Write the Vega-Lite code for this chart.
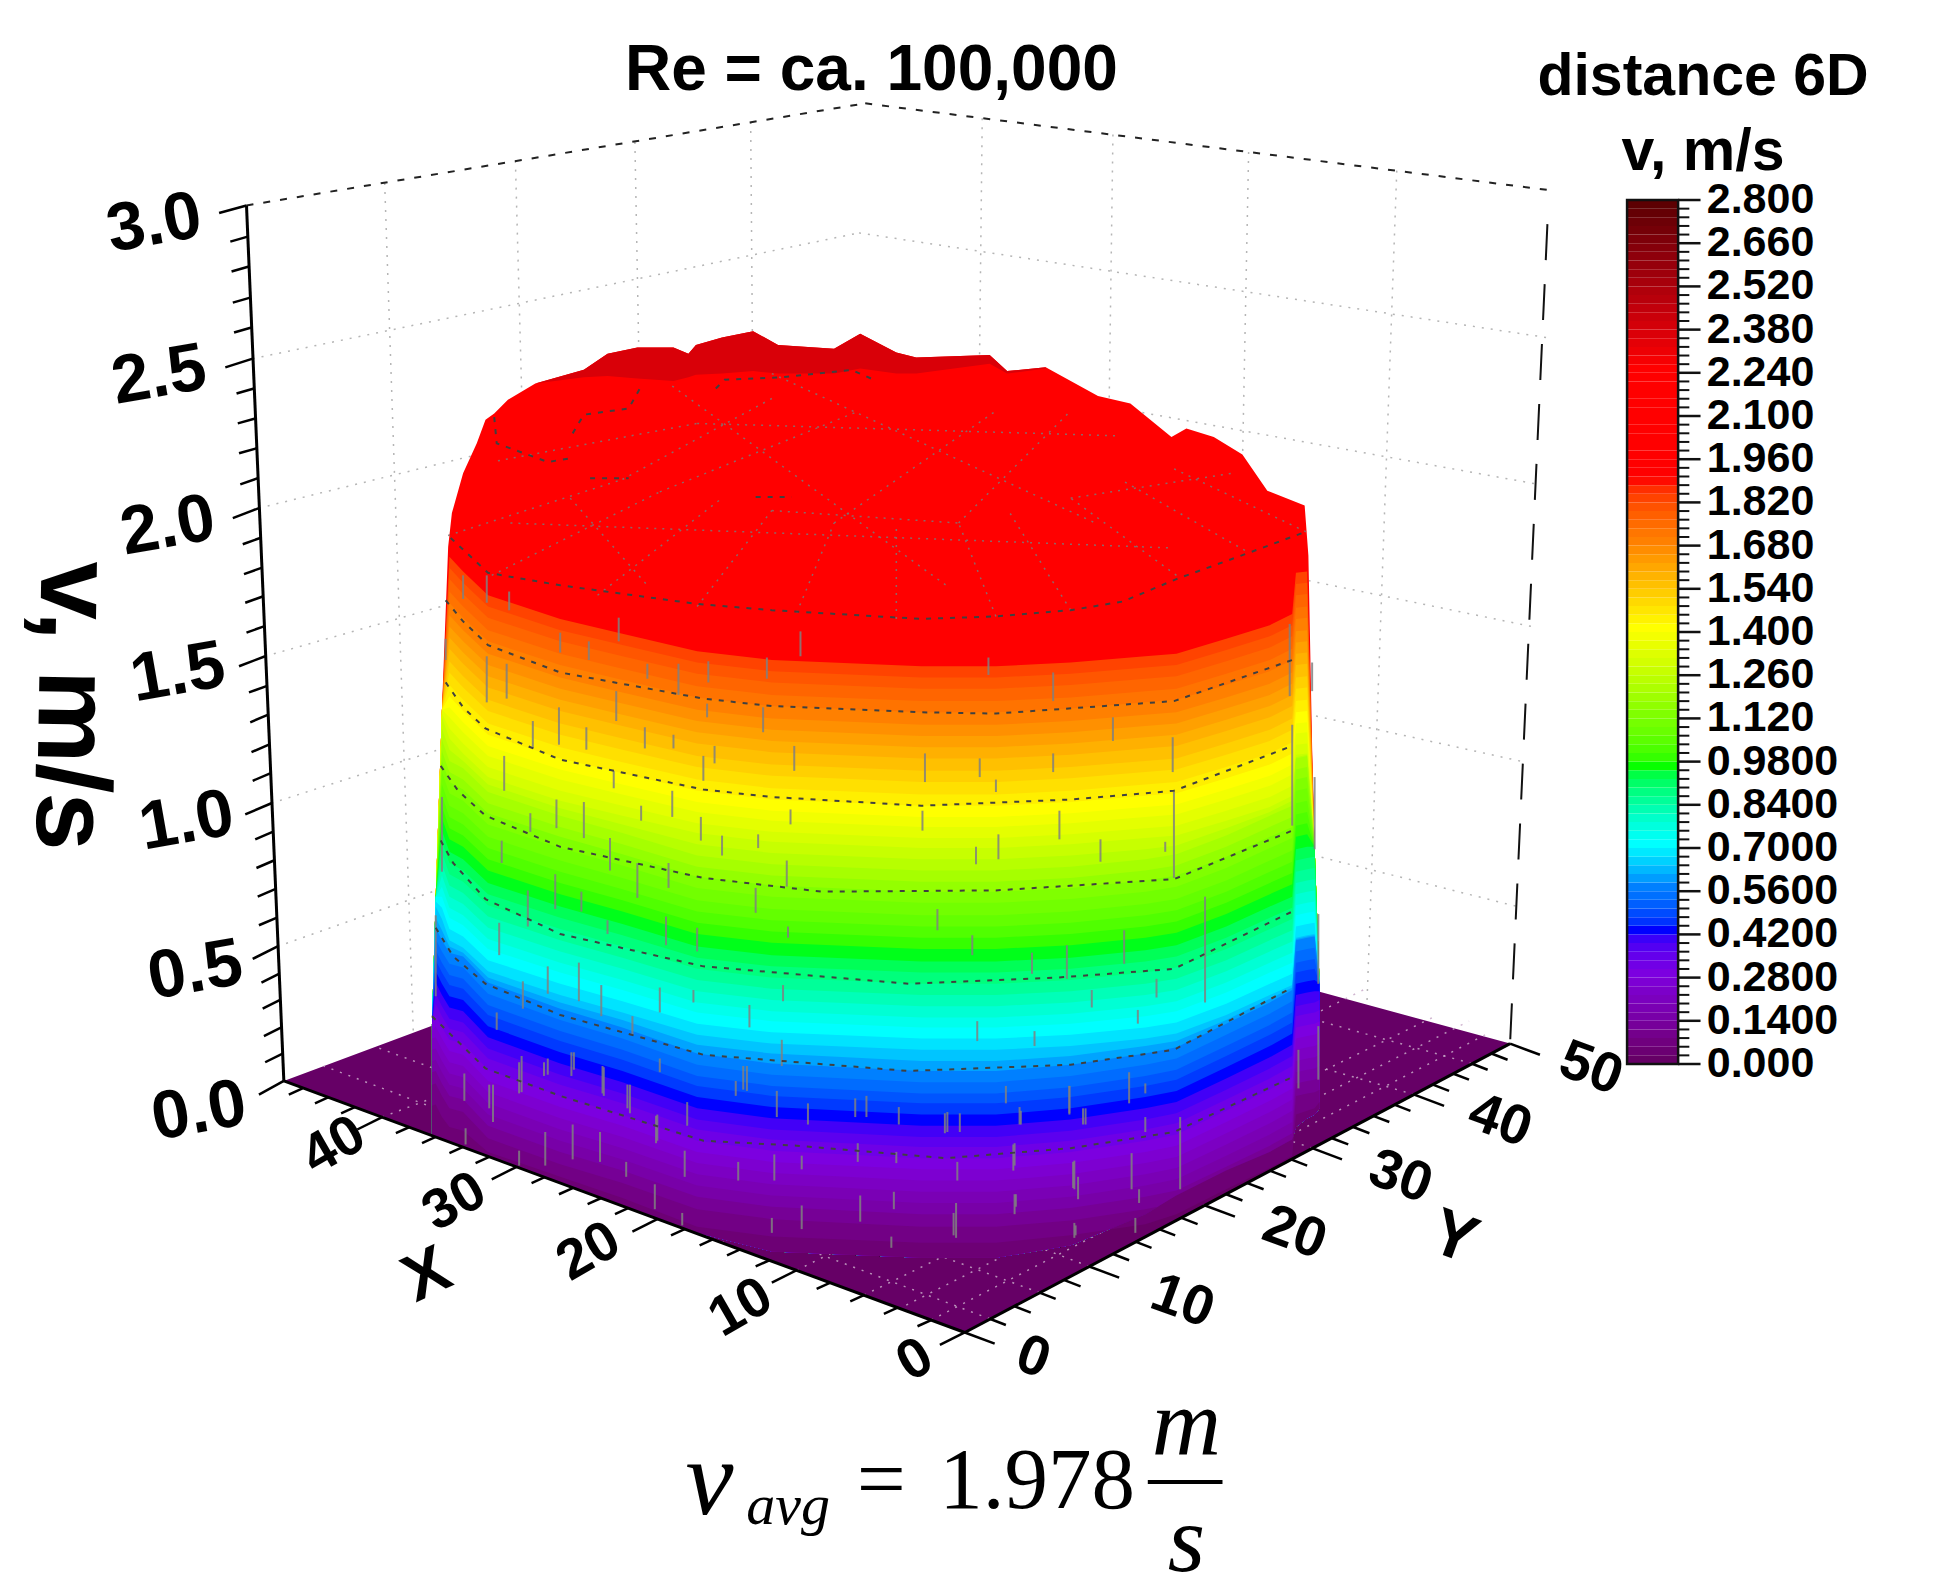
{"$schema":"https://vega.github.io/schema/vega-lite/v6.json","width":1952,"height":1594,"padding":0,"autosize":{"type":"none"},"background":"white","config":{"view":{"stroke":null}},
"encoding":{"x":{"field":"x","type":"quantitative","scale":{"domain":[0,1568],"nice":false,"zero":false},"axis":null},"y":{"field":"y","type":"quantitative","scale":{"domain":[1280,0],"nice":false,"zero":false},"axis":null}},
"resolve":{"scale":{"y":"independent"}},
"layer":[
{"layer":[
{"data":{"values":[{"x":228,"y":868,"y2":868,"v":0},{"x":690,"y":696,"y2":1038,"v":0},{"x":775,"y":719,"y2":1070,"v":0},{"x":1213,"y":838,"y2":838,"v":0}]},"mark":{"type":"area"},"encoding":{"y":{"field":"y","type":"quantitative","stack":null},"y2":{"field":"y2"},"color":{"field":"v","type":"quantitative","legend":null,"scale":{"domain":[0,0.14,0.28,0.42,0.56,0.7,0.84,0.95,1.12,1.4,1.68,1.88,2.24,2.8],"range":["#660066","#7800a8","#7c00e0","#0000ff","#0080ff","#00ffff","#00ff99","#00ff00","#80ff00","#ffff00","#ff8000","#ff0000","#ff0000","#550000"]}}}},
{"data":{"values":[{"x":640,"y":1020,"x2":1095,"y2":795},{"x":528,"y":979,"x2":1000,"y2":765},{"x":415,"y":937,"x2":905,"y2":740},{"x":307,"y":897,"x2":800,"y2":712},{"x":875,"y":1017,"x2":345,"y2":815},{"x":968,"y":968,"x2":440,"y2":780},{"x":1054,"y":922,"x2":535,"y2":745},{"x":1136,"y":879,"x2":610,"y2":726},{"x":728,"y":1048,"x2":1180,"y2":820},{"x":580,"y":998,"x2":1040,"y2":780},{"x":795,"y":1059,"x2":260,"y2":856},{"x":835,"y":1038,"x2":300,"y2":840},{"x":748,"y":1060,"x2":1195,"y2":830},{"x":694,"y":1040,"x2":1155,"y2":815},{"x":1182,"y":854,"x2":660,"y2":708}]},"mark":{"type":"rule","stroke":"#c8a8c8","strokeWidth":1.5,"strokeDash":[2,7],"opacity":0.85},"encoding":{"x2":{"field":"x2"},"y2":{"field":"y2"}}},
{"data":{"values":[{"x":203,"y":288,"x2":690,"y2":187},{"x":208,"y":408,"x2":690,"y2":290},{"x":213,"y":527,"x2":690,"y2":392},{"x":218,"y":645,"x2":690,"y2":494},{"x":223,"y":760,"x2":690,"y2":595},{"x":690,"y":187,"x2":1242,"y2":271},{"x":690,"y":290,"x2":1236,"y2":389},{"x":690,"y":392,"x2":1230,"y2":503},{"x":690,"y":494,"x2":1225,"y2":612},{"x":690,"y":595,"x2":1219,"y2":728},{"x":309,"y":147,"x2":332,"y2":829},{"x":414,"y":129,"x2":432,"y2":792},{"x":510,"y":114,"x2":522,"y2":759},{"x":603,"y":98,"x2":608,"y2":727},{"x":789,"y":95,"x2":782,"y2":721},{"x":894,"y":108,"x2":885,"y2":749},{"x":1003,"y":122,"x2":990,"y2":777},{"x":1122,"y":137,"x2":1098,"y2":807}]},"mark":{"type":"rule","stroke":"#b5b5b5","strokeWidth":1.5,"strokeDash":[2,7]},"encoding":{"x2":{"field":"x2"},"y2":{"field":"y2"}}},
{"data":{"values":[{"x":198,"y":165,"x2":695,"y2":83},{"x":695,"y":83,"x2":1247,"y2":153}]},"mark":{"type":"rule","stroke":"#222","strokeWidth":2,"strokeDash":[7,10]},"encoding":{"x2":{"field":"x2"},"y2":{"field":"y2"}}},
{"data":{"values":[{"x":1243,"y":180,"x2":1213,"y2":838}]},"mark":{"type":"rule","stroke":"#111","strokeWidth":2,"strokeDash":[36,24]},"encoding":{"x2":{"field":"x2"},"y2":{"field":"y2"}}},
{"data":{"values":[{"x":198,"y":165,"x2":176,"y2":171},{"x":199,"y":190,"x2":185,"y2":194},{"x":200,"y":214,"x2":186,"y2":218},{"x":201,"y":239,"x2":187,"y2":243},{"x":202,"y":263,"x2":188,"y2":267},{"x":203,"y":288,"x2":181,"y2":295},{"x":204,"y":312,"x2":190,"y2":316},{"x":205,"y":336,"x2":191,"y2":340},{"x":206,"y":360,"x2":192,"y2":364},{"x":207,"y":384,"x2":193,"y2":389},{"x":208,"y":408,"x2":187,"y2":416},{"x":209,"y":432,"x2":195,"y2":437},{"x":210,"y":456,"x2":196,"y2":461},{"x":211,"y":479,"x2":197,"y2":484},{"x":212,"y":503,"x2":198,"y2":508},{"x":213,"y":527,"x2":192,"y2":535},{"x":214,"y":551,"x2":200,"y2":556},{"x":215,"y":574,"x2":201,"y2":580},{"x":216,"y":598,"x2":202,"y2":604},{"x":217,"y":621,"x2":203,"y2":627},{"x":218,"y":645,"x2":197,"y2":654},{"x":219,"y":668,"x2":205,"y2":674},{"x":220,"y":691,"x2":206,"y2":697},{"x":221,"y":714,"x2":207,"y2":720},{"x":222,"y":737,"x2":208,"y2":743},{"x":223,"y":760,"x2":203,"y2":770},{"x":224,"y":782,"x2":210,"y2":789},{"x":225,"y":803,"x2":211,"y2":810},{"x":226,"y":825,"x2":212,"y2":832},{"x":227,"y":846,"x2":213,"y2":853},{"x":228,"y":868,"x2":208,"y2":879}]},"mark":{"type":"rule","stroke":"#000","strokeWidth":2.5},"encoding":{"x2":{"field":"x2"},"y2":{"field":"y2"}}},
{"data":{"values":[{"x":775,"y":1070,"x2":755,"y2":1080},{"x":748,"y":1060,"x2":737,"y2":1065},{"x":721,"y":1050,"x2":710,"y2":1055},{"x":694,"y":1040,"x2":683,"y2":1045},{"x":667,"y":1030,"x2":656,"y2":1035},{"x":640,"y":1020,"x2":620,"y2":1030},{"x":618,"y":1012,"x2":607,"y2":1017},{"x":595,"y":1003,"x2":584,"y2":1008},{"x":573,"y":995,"x2":562,"y2":1000},{"x":550,"y":987,"x2":539,"y2":992},{"x":528,"y":979,"x2":508,"y2":989},{"x":505,"y":970,"x2":494,"y2":975},{"x":483,"y":962,"x2":472,"y2":967},{"x":460,"y":954,"x2":449,"y2":959},{"x":438,"y":945,"x2":427,"y2":950},{"x":415,"y":937,"x2":395,"y2":947},{"x":393,"y":929,"x2":382,"y2":934},{"x":372,"y":921,"x2":361,"y2":926},{"x":350,"y":913,"x2":339,"y2":918},{"x":329,"y":905,"x2":318,"y2":910},{"x":307,"y":897,"x2":287,"y2":907},{"x":285,"y":889,"x2":274,"y2":894},{"x":264,"y":881,"x2":253,"y2":886},{"x":243,"y":874,"x2":232,"y2":879},
{"x":775,"y":1070,"x2":799,"y2":1079},{"x":795,"y":1059,"x2":808,"y2":1064},{"x":815,"y":1049,"x2":828,"y2":1054},{"x":835,"y":1038,"x2":848,"y2":1043},{"x":855,"y":1028,"x2":868,"y2":1033},{"x":875,"y":1017,"x2":899,"y2":1026},{"x":894,"y":1007,"x2":907,"y2":1012},{"x":912,"y":997,"x2":925,"y2":1002},{"x":931,"y":987,"x2":944,"y2":992},{"x":949,"y":978,"x2":962,"y2":983},{"x":968,"y":968,"x2":992,"y2":977},{"x":985,"y":959,"x2":998,"y2":964},{"x":1002,"y":950,"x2":1015,"y2":955},{"x":1020,"y":940,"x2":1033,"y2":945},{"x":1037,"y":931,"x2":1050,"y2":936},{"x":1054,"y":922,"x2":1078,"y2":931},{"x":1070,"y":914,"x2":1083,"y2":919},{"x":1087,"y":905,"x2":1100,"y2":910},{"x":1103,"y":896,"x2":1116,"y2":901},{"x":1120,"y":887,"x2":1133,"y2":892},{"x":1136,"y":879,"x2":1160,"y2":888},{"x":1151,"y":871,"x2":1164,"y2":876},{"x":1167,"y":862,"x2":1180,"y2":867},{"x":1182,"y":854,"x2":1195,"y2":859},{"x":1198,"y":846,"x2":1211,"y2":851},{"x":1213,"y":838,"x2":1237,"y2":847}]},"mark":{"type":"rule","stroke":"#000","strokeWidth":2.5},"encoding":{"x2":{"field":"x2"},"y2":{"field":"y2"}}},
{"data":{"values":[{"x":347,"y":822,"y2":830,"v":2.1},{"x":350,"y":720,"y2":830,"v":2.1},{"x":355,"y":570,"y2":830,"v":2.1},{"x":360,"y":439,"y2":830,"v":2.1},{"x":363,"y":412,"y2":830,"v":2.1},{"x":372,"y":380,"y2":830,"v":2.1},{"x":383,"y":356,"y2":830,"v":2.1},{"x":390,"y":337,"y2":830,"v":2.1},{"x":397,"y":332,"y2":830,"v":2.1},{"x":408,"y":321,"y2":830,"v":2.1},{"x":430,"y":308,"y2":830,"v":2.1},{"x":469,"y":297,"y2":830,"v":2.1},{"x":488,"y":284,"y2":830,"v":2.1},{"x":512,"y":279,"y2":830,"v":2.1},{"x":541,"y":279,"y2":830,"v":2.1},{"x":553,"y":284,"y2":830,"v":2.1},{"x":559,"y":277,"y2":830,"v":2.1},{"x":580,"y":271,"y2":830,"v":2.1},{"x":605,"y":266,"y2":830,"v":2.1},{"x":625,"y":277,"y2":830,"v":2.1},{"x":670,"y":280,"y2":830,"v":2.1},{"x":691,"y":268,"y2":830,"v":2.1},{"x":720,"y":283,"y2":830,"v":2.1},{"x":736,"y":287,"y2":830,"v":2.1},{"x":795,"y":285,"y2":830,"v":2.1},{"x":809,"y":298,"y2":830,"v":2.1},{"x":840,"y":295,"y2":830,"v":2.1},{"x":882,"y":318,"y2":830,"v":2.1},{"x":908,"y":324,"y2":830,"v":2.1},{"x":941,"y":351,"y2":830,"v":2.1},{"x":953,"y":344,"y2":830,"v":2.1},{"x":975,"y":351,"y2":830,"v":2.1},{"x":998,"y":365,"y2":830,"v":2.1},{"x":1018,"y":394,"y2":830,"v":2.1},{"x":1048,"y":406,"y2":830,"v":2.1},{"x":1051,"y":446,"y2":830,"v":2.1},{"x":1054,"y":600,"y2":830,"v":2.1},{"x":1056,"y":680,"y2":830,"v":2.1},{"x":1060,"y":790,"y2":830,"v":2.1}]},"mark":{"type":"area"},"encoding":{"y":{"field":"y","type":"quantitative","stack":null},"y2":{"field":"y2"},"color":{"field":"v","type":"quantitative","legend":null}}},
{"data":{"values":[{"x":430,"y":308,"y2":308,"v":2.36},{"x":469,"y":297,"y2":303,"v":2.36},{"x":488,"y":284,"y2":302,"v":2.36},{"x":512,"y":279,"y2":304,"v":2.36},{"x":541,"y":279,"y2":306,"v":2.36},{"x":553,"y":284,"y2":303,"v":2.36},{"x":559,"y":277,"y2":301,"v":2.36},{"x":580,"y":271,"y2":300,"v":2.36},{"x":605,"y":266,"y2":298,"v":2.36},{"x":625,"y":277,"y2":300,"v":2.36},{"x":670,"y":280,"y2":300,"v":2.36},{"x":691,"y":268,"y2":296,"v":2.36},{"x":720,"y":283,"y2":300,"v":2.36},{"x":736,"y":287,"y2":300,"v":2.36},{"x":795,"y":285,"y2":292,"v":2.36},{"x":809,"y":298,"y2":300,"v":2.36},{"x":840,"y":295,"y2":296,"v":2.36}]},"mark":{"type":"area"},"encoding":{"y":{"field":"y","type":"quantitative","stack":null},"y2":{"field":"y2"},"color":{"field":"v","type":"quantitative","legend":null}}},
{"datasets":{},"data":{"values":[
{"v":1.82,"x":[347,350,355,361,372,392,450,500,560,620,740,800,860,920,945,985,1020,1038,1041,1050,1056,1060],"y":[822,720,570,447,459,478,497,509,523,530,535,535,532,527,525,513,502,493,460,459,680,790]},
{"v":1.785,"x":[347,350,355,361,372,392,450,500,560,620,740,800,860,920,945,985,1020,1038,1041,1050,1056,1060],"y":[822,720,570,456,468,487,506,518,532,539,544,544,541,536,534,522,511,502,469,468,680,790]},
{"v":1.75,"x":[347,350,355,361,372,392,450,500,560,620,740,800,860,920,945,985,1020,1038,1041,1050,1056,1060],"y":[822,720,570,465,477,496,515,527,541,548,553,553,550,545,543,531,520,511,478,477,680,790]},
{"v":1.715,"x":[347,350,355,361,372,392,450,500,560,620,740,800,860,920,945,985,1020,1038,1041,1050,1056,1060],"y":[822,720,570,475,487,506,525,537,551,558,563,563,560,555,553,541,530,521,488,487,680,790]},
{"v":1.68,"x":[347,350,355,361,372,392,450,500,560,620,740,800,860,920,945,985,1020,1038,1041,1050,1056,1060],"y":[822,720,570,484,496,515,534,546,560,567,572,572,569,564,562,550,539,530,497,496,680,790]},
{"v":1.645,"x":[347,350,355,361,372,392,450,500,560,620,740,800,860,920,945,985,1020,1038,1041,1050,1056,1060],"y":[822,720,570,494,506,525,544,556,570,577,582,582,579,574,572,560,549,540,507,506,680,790]},
{"v":1.61,"x":[347,350,355,361,372,392,450,500,560,620,740,800,860,920,945,985,1020,1038,1041,1050,1056,1060],"y":[822,720,570,503,515,534,553,565,579,586,591,591,588,583,581,569,558,549,516,515,680,790]},
{"v":1.575,"x":[347,350,355,361,372,392,450,500,560,620,740,800,860,920,945,985,1020,1038,1041,1050,1056,1060],"y":[822,720,570,512,524,543,562,574,588,595,600,600,597,592,590,578,567,558,525,524,680,790]},
{"v":1.54,"x":[347,350,355,361,372,392,450,500,560,620,740,800,860,920,945,985,1020,1038,1041,1050,1056,1060],"y":[822,720,570,521,533,552,571,583,597,604,609,609,606,601,599,587,576,567,534,533,680,790]},
{"v":1.505,"x":[347,350,355,361,372,392,450,500,560,620,740,800,860,920,945,985,1020,1038,1041,1050,1056,1060],"y":[822,720,570,531,543,562,581,593,607,614,619,619,616,611,609,597,586,577,544,543,680,790]},
{"v":1.47,"x":[347,350,355,361,372,392,450,500,560,620,740,800,860,920,945,985,1020,1038,1041,1050,1056,1060],"y":[822,720,570,540,552,571,590,602,616,623,628,628,625,620,618,606,595,586,553,552,680,790]},
{"v":1.435,"x":[347,350,355,361,372,392,450,500,560,620,740,800,860,920,945,985,1020,1038,1041,1050,1056,1060],"y":[822,720,570,550,562,581,600,612,626,633,638,638,635,630,628,616,605,596,563,562,680,790]},
{"v":1.40,"x":[347,350,355,361,372,392,450,500,560,620,740,800,860,920,945,985,1020,1038,1041,1050,1056,1060],"y":[822,720,570,559,571,590,609,621,635,642,647,647,644,639,637,625,614,605,572,571,680,790]},
{"v":1.365,"x":[347,350,355,361,372,392,450,500,560,620,740,800,860,920,945,985,1020,1038,1041,1050,1056,1060],"y":[822,720,570,568,580,599,618,630,644,651,656,656,653,648,646,634,623,614,581,580,680,790]},
{"v":1.33,"x":[347,350,355,361,372,392,450,500,560,620,740,800,860,920,945,985,1020,1038,1041,1050,1056,1060],"y":[822,720,570,576,588,607,626,638,652,659,664,664,661,656,654,642,631,622,589,588,680,790]},
{"v":1.295,"x":[347,350,355,361,372,392,450,500,560,620,740,800,860,920,945,985,1020,1038,1041,1050,1056,1060],"y":[822,720,573,585,597,616,635,647,661,668,673,673,670,665,663,651,640,631,598,597,680,790]},
{"v":1.26,"x":[347,350,355,361,372,392,450,500,560,620,740,800,860,920,945,985,1020,1038,1041,1050,1056,1060],"y":[822,720,576,593,605,624,643,655,669,676,681,681,678,673,671,659,648,639,606,605,680,790]},
{"v":1.225,"x":[347,350,355,361,372,392,450,500,560,620,740,800,860,920,945,985,1020,1038,1041,1050,1056,1060],"y":[822,720,585,602,611,630,649,662,678,685,690,690,687,682,679,665,652,643,608,606,680,790]},
{"v":1.19,"x":[347,350,355,361,372,392,450,500,560,620,740,800,860,920,945,985,1020,1038,1041,1050,1056,1060],"y":[822,720,594,611,617,636,655,669,687,694,699,699,696,690,686,671,655,647,609,607,680,790]},
{"v":1.155,"x":[347,350,355,361,372,392,450,500,560,620,740,800,860,920,945,985,1020,1038,1041,1050,1056,1060],"y":[822,720,603,620,626,645,664,678,696,703,708,708,705,699,695,680,664,656,618,616,680,790]},
{"v":1.12,"x":[347,350,355,361,372,392,450,500,560,620,740,800,860,920,945,985,1020,1038,1041,1050,1056,1060],"y":[822,720,611,628,634,653,672,686,704,711,716,716,713,707,703,688,672,664,626,624,680,790]},
{"v":1.085,"x":[347,350,355,361,372,392,450,500,560,620,740,800,860,920,945,985,1020,1038,1041,1050,1056,1060],"y":[822,720,620,637,643,662,681,695,713,720,725,725,722,716,712,697,681,673,635,633,680,790]},
{"v":1.05,"x":[347,350,355,361,372,392,450,500,560,620,740,800,860,920,945,985,1020,1038,1041,1050,1056,1060],"y":[822,720,630,647,653,672,691,705,723,730,735,735,732,726,722,707,691,683,645,643,680,790]},
{"v":1.015,"x":[347,350,355,361,372,392,450,500,560,620,740,800,860,920,945,985,1020,1038,1041,1050,1056,1060],"y":[822,720,639,656,662,681,700,714,732,739,744,744,741,735,731,716,700,692,654,652,680,790]},
{"v":0.98,"x":[347,350,355,361,372,392,450,500,560,620,740,800,860,920,945,985,1020,1038,1041,1050,1056,1060],"y":[822,720,648,665,671,690,709,723,741,748,753,753,750,744,740,725,709,701,663,661,680,790]},
{"v":0.945,"x":[347,350,355,361,372,392,450,500,560,620,740,800,860,920,945,985,1020,1038,1041,1050,1056,1060],"y":[822,720,657,674,680,699,718,732,750,757,762,762,759,753,749,734,718,710,672,670,680,790]},
{"v":0.91,"x":[347,350,355,361,372,392,450,500,560,620,740,800,860,920,945,985,1020,1038,1041,1050,1056,1060],"y":[822,720,667,684,690,709,728,742,760,767,772,772,769,763,759,744,728,720,682,680,680,790]},
{"v":0.875,"x":[347,350,355,361,372,392,450,500,560,620,740,800,860,920,945,985,1020,1038,1041,1050,1056,1060],"y":[822,720,676,693,699,718,737,751,769,776,781,781,778,772,768,753,737,729,691,689,688,790]},
{"v":0.84,"x":[347,350,355,361,372,392,450,500,560,620,740,800,860,920,945,985,1020,1038,1041,1050,1056,1060],"y":[822,720,685,702,708,727,746,760,778,785,790,790,787,781,777,762,746,738,700,698,697,790]},
{"v":0.805,"x":[347,350,355,361,372,392,450,500,560,620,740,800,860,920,945,985,1020,1038,1041,1050,1056,1060],"y":[822,720,694,711,717,736,755,769,787,794,799,799,796,790,786,771,755,747,709,707,706,790]},
{"v":0.77,"x":[347,350,355,361,372,392,450,500,560,620,740,800,860,920,945,985,1020,1038,1041,1050,1056,1060],"y":[822,720,703,720,726,745,764,778,796,803,808,808,805,799,795,780,764,756,718,716,715,790]},
{"v":0.735,"x":[347,350,355,361,372,392,450,500,560,620,740,800,860,920,945,985,1020,1038,1041,1050,1056,1060],"y":[822,720,712,729,735,754,773,787,805,812,817,817,814,808,804,789,773,765,727,725,724,790]},
{"v":0.70,"x":[347,350,355,361,372,392,450,500,560,620,740,800,860,920,945,985,1020,1038,1041,1050,1056,1060],"y":[822,720,720,737,743,762,781,795,813,820,825,825,822,816,812,797,781,773,735,733,732,790]},
{"v":0.665,"x":[347,350,355,361,372,392,450,500,560,620,740,800,860,920,945,985,1020,1038,1041,1050,1056,1060],"y":[822,724,729,746,752,771,790,804,822,829,834,834,831,825,821,806,790,782,744,742,741,790]},
{"v":0.63,"x":[347,350,355,361,372,392,450,500,560,620,740,800,860,920,945,985,1020,1038,1041,1050,1056,1060],"y":[822,728,738,755,761,780,799,813,831,838,843,843,840,834,830,815,799,791,753,751,750,790]},
{"v":0.595,"x":[347,350,355,361,372,392,450,500,560,620,740,800,860,920,945,985,1020,1038,1041,1050,1056,1060],"y":[822,737,747,760,765,785,805,819,839,846,852,852,848,840,836,819,802,793,754,752,751,790]},
{"v":0.56,"x":[347,350,355,361,372,392,450,500,560,620,740,800,860,920,945,985,1020,1038,1041,1050,1056,1060],"y":[822,745,755,765,768,789,810,825,846,854,860,860,855,846,841,822,805,795,755,753,752,790]},
{"v":0.525,"x":[347,350,355,361,372,392,450,500,560,620,740,800,860,920,945,985,1020,1038,1041,1050,1056,1060],"y":[822,754,764,774,777,798,819,834,855,863,869,869,864,855,850,831,814,804,764,762,761,790]},
{"v":0.49,"x":[347,350,355,361,372,392,450,500,560,620,740,800,860,920,945,985,1020,1038,1041,1050,1056,1060],"y":[822,763,773,783,786,807,828,843,864,872,878,878,873,864,859,840,823,813,773,771,770,790]},
{"v":0.455,"x":[347,350,355,361,372,392,450,500,560,620,740,800,860,920,945,985,1020,1038,1041,1050,1056,1060],"y":[822,771,781,791,794,815,836,851,872,880,886,886,881,872,867,848,831,821,781,779,778,790]},
{"v":0.42,"x":[347,350,355,361,372,392,450,500,560,620,740,800,860,920,945,985,1020,1038,1041,1050,1056,1060],"y":[822,780,790,800,803,824,845,860,881,889,895,895,890,881,876,857,840,830,790,788,787,790]},
{"v":0.385,"x":[347,350,355,361,372,392,450,500,560,620,740,800,860,920,945,985,1020,1038,1041,1050,1056,1060],"y":[822,789,799,809,812,833,854,869,890,898,904,904,899,890,885,866,849,839,799,797,796,796]},
{"v":0.35,"x":[347,350,355,361,372,392,450,500,560,620,740,800,860,920,945,985,1020,1038,1041,1050,1056,1060],"y":[822,798,808,818,821,842,863,878,899,907,913,913,908,899,894,875,858,848,808,806,805,803]},
{"v":0.315,"x":[347,350,355,361,372,392,450,500,560,620,740,800,860,920,945,985,1020,1038,1041,1050,1056,1060],"y":[822,806,816,826,829,850,871,886,907,915,921,921,916,907,902,883,866,856,816,814,813,811]},
{"v":0.28,"x":[347,350,355,361,372,392,450,500,560,620,740,800,860,920,945,985,1020,1038,1041,1050,1056,1060],"y":[822,815,825,835,838,859,880,895,916,924,930,930,925,916,911,892,875,865,825,823,822,820]},
{"v":0.245,"x":[347,350,355,361,372,392,450,500,560,620,740,800,860,920,945,985,1020,1038,1041,1050,1056,1060],"y":[828,824,834,844,847,868,889,904,925,933,939,939,934,925,920,901,884,874,834,832,831,829]},
{"v":0.21,"x":[347,350,355,361,372,392,450,500,560,620,740,800,860,920,945,985,1020,1038,1041,1050,1056,1060],"y":[834,833,843,853,856,877,898,913,934,942,948,948,943,934,929,910,893,883,843,841,840,838]},
{"v":0.175,"x":[347,350,355,361,372,392,450,500,560,620,740,800,860,920,945,985,1020,1038,1041,1050,1056,1060],"y":[843,842,852,862,865,886,907,922,943,951,957,957,952,943,938,919,902,892,852,850,849,847]},
{"v":0.14,"x":[347,350,355,361,372,392,450,500,560,620,740,800,860,920,945,985,1020,1038,1041,1050,1056,1060],"y":[852,851,861,871,874,895,916,931,952,960,966,966,961,952,947,928,911,901,861,859,858,856]},
{"v":0.105,"x":[347,350,355,361,372,392,450,500,560,620,740,800,860,920,945,985,1020,1038,1041,1050,1056,1060],"y":[861,860,870,880,883,904,925,940,961,969,975,975,970,961,956,937,920,910,870,868,867,865]},
{"v":0.07,"x":[347,350,355,361,372,392,450,500,560,620,740,800,860,920,945,985,1020,1038,1041,1050,1056,1060],"y":[871,870,880,890,893,914,935,950,971,979,985,985,980,971,966,947,930,920,880,878,877,875]},
{"v":0.035,"x":[347,350,355,361,372,392,450,500,560,620,740,800,860,920,945,985,1020,1038,1041,1050,1056,1060],"y":[888,887,897,905,908,925,945,962,985,993,998,998,992,983,975,955,938,928,895,892,890,885]}
]},"transform":[{"flatten":["x","y"]},{"lookup":"x","from":{"data":{"values":[{"x":347,"b":911},{"x":350,"b":912},{"x":355,"b":914},{"x":361,"b":917},{"x":372,"b":921},{"x":392,"b":928},{"x":450,"b":950},{"x":500,"b":968},{"x":560,"b":990},{"x":620,"b":1005},{"x":740,"b":1010},{"x":800,"b":1010},{"x":860,"b":1000},{"x":920,"b":975},{"x":945,"b":960},{"x":985,"b":940},{"x":1020,"b":925},{"x":1038,"b":915},{"x":1041,"b":905},{"x":1050,"b":898},{"x":1056,"b":895},{"x":1060,"b":890}]},"key":"x","fields":["b"]}}],"mark":{"type":"area"},"encoding":{"y":{"field":"y","type":"quantitative","stack":null},"y2":{"field":"b"},"detail":{"field":"v"},"color":{"field":"v","type":"quantitative","legend":null}}},
{"data":{"values":[{"x":198,"y":165,"x2":228,"y2":868},{"x":228,"y":868,"x2":775,"y2":1070},{"x":775,"y":1070,"x2":1213,"y2":838}]},"mark":{"type":"rule","stroke":"#000","strokeWidth":3},"encoding":{"x2":{"field":"x2"},"y2":{"field":"y2"}}},
{"data":{"values":[{"x":458,"y":400,"x2":520,"y2":470},{"x":360,"y":430,"x2":500,"y2":385},{"x":395,"y":462,"x2":530,"y2":395},{"x":480,"y":478,"x2":580,"y2":400},{"x":560,"y":487,"x2":620,"y2":410},{"x":640,"y":492,"x2":670,"y2":420},{"x":720,"y":497,"x2":720,"y2":420},{"x":800,"y":495,"x2":770,"y2":420},{"x":860,"y":490,"x2":810,"y2":410},{"x":945,"y":462,"x2":860,"y2":400},{"x":1000,"y":442,"x2":900,"y2":385},{"x":1049,"y":427,"x2":940,"y2":375},{"x":620,"y":410,"x2":770,"y2":420},{"x":500,"y":385,"x2":620,"y2":320},{"x":530,"y":395,"x2":690,"y2":330},{"x":670,"y":420,"x2":800,"y2":330},{"x":770,"y":420,"x2":860,"y2":330},{"x":860,"y":400,"x2":990,"y2":380},{"x":400,"y":370,"x2":560,"y2":340},{"x":560,"y":340,"x2":900,"y2":350},{"x":410,"y":420,"x2":940,"y2":440},{"x":620,"y":300,"x2":880,"y2":420},{"x":540,"y":310,"x2":760,"y2":470}]},"mark":{"type":"rule","stroke":"#8a6a6a","strokeWidth":1.5,"strokeDash":[2,6],"opacity":0.95},"encoding":{"x2":{"field":"x2"},"y2":{"field":"y2"}}},
{"data":{"values":[{"x":372,"y":462,"y2":481},{"x":391,"y":462,"y2":484},{"x":409,"y":475,"y2":490},{"x":450,"y":508,"y2":524},{"x":473,"y":515,"y2":530},{"x":497,"y":496,"y2":515},{"x":520,"y":533,"y2":545},{"x":545,"y":533,"y2":558},{"x":569,"y":531,"y2":548},{"x":616,"y":528,"y2":545},{"x":643,"y":507,"y2":527},{"x":407,"y":533,"y2":561},{"x":391,"y":527,"y2":564},{"x":358,"y":513,"y2":530},{"x":428,"y":579,"y2":601},{"x":449,"y":568,"y2":598},{"x":471,"y":584,"y2":602},{"x":495,"y":555,"y2":579},{"x":518,"y":584,"y2":601},{"x":541,"y":590,"y2":601},{"x":568,"y":565,"y2":576},{"x":613,"y":568,"y2":588},{"x":405,"y":607,"y2":635},{"x":493,"y":619,"y2":633},{"x":565,"y":607,"y2":627},{"x":574,"y":599,"y2":613},{"x":638,"y":599,"y2":619},{"x":426,"y":653,"y2":668},{"x":447,"y":642,"y2":665},{"x":469,"y":644,"y2":673},{"x":515,"y":647,"y2":659},{"x":540,"y":635,"y2":656},{"x":563,"y":656,"y2":675},{"x":635,"y":650,"y2":662},{"x":403,"y":675,"y2":693},{"x":490,"y":673,"y2":699},{"x":512,"y":693,"y2":721},{"x":537,"y":693,"y2":713},{"x":580,"y":671,"y2":687},{"x":609,"y":670,"y2":681},{"x":632,"y":691,"y2":712},{"x":424,"y":715,"y2":744},{"x":446,"y":702,"y2":730},{"x":467,"y":716,"y2":732},{"x":488,"y":739,"y2":750},{"x":535,"y":736,"y2":759},{"x":560,"y":745,"y2":764},{"x":607,"y":713,"y2":733},{"x":633,"y":744,"y2":753},{"x":401,"y":741,"y2":767},{"x":440,"y":776,"y2":798},{"x":465,"y":773,"y2":804},{"x":483,"y":791,"y2":816},{"x":530,"y":793,"y2":813},{"x":557,"y":795,"y2":805},{"x":602,"y":807,"y2":825},{"x":629,"y":791,"y2":804},{"x":399,"y":813,"y2":827},{"x":420,"y":788,"y2":810},{"x":508,"y":816,"y2":831},{"x":459,"y":845,"y2":864},{"x":437,"y":853,"y2":864},{"x":484,"y":856,"y2":878},{"x":530,"y":850,"y2":861},{"x":552,"y":885,"y2":904},{"x":600,"y":856,"y2":876},{"x":628,"y":835,"y2":856},{"x":504,"y":871,"y2":890},{"x":373,"y":862,"y2":884},{"x":393,"y":871,"y2":890},{"x":527,"y":896,"y2":918},{"x":417,"y":853,"y2":878},{"x":597,"y":856,"y2":875},{"x":591,"y":868,"y2":880},{"x":624,"y":876,"y2":897},{"x":649,"y":886,"y2":903},{"x":687,"y":882,"y2":897},{"x":696,"y":880,"y2":897},{"x":722,"y":889,"y2":903},{"x":759,"y":894,"y2":910},{"x":771,"y":894,"y2":909},{"x":819,"y":889,"y2":903},{"x":859,"y":872,"y2":895},{"x":870,"y":890,"y2":903},{"x":593,"y":933,"y2":948},{"x":622,"y":927,"y2":948},{"x":644,"y":928,"y2":939},{"x":689,"y":918,"y2":933},{"x":720,"y":925,"y2":934},{"x":769,"y":933,"y2":948},{"x":815,"y":918,"y2":936},{"x":862,"y":933,"y2":954},{"x":866,"y":945,"y2":963},{"x":526,"y":951,"y2":971},{"x":548,"y":974,"y2":984},{"x":550,"y":924,"y2":945},{"x":503,"y":933,"y2":945},{"x":482,"y":909,"y2":933},{"x":460,"y":903,"y2":931},{"x":438,"y":909,"y2":936},{"x":417,"y":924,"y2":936},{"x":396,"y":871,"y2":901},{"x":374,"y":906,"y2":919},{"x":528,"y":895,"y2":916},{"x":506,"y":871,"y2":894},{"x":485,"y":857,"y2":880},{"x":461,"y":845,"y2":859},{"x":440,"y":850,"y2":863},{"x":419,"y":848,"y2":877},{"x":644,"y":968,"y2":987},{"x":620,"y":978,"y2":990},{"x":691,"y":960,"y2":981},{"x":718,"y":957,"y2":971},{"x":766,"y":974,"y2":992},{"x":716,"y":993,"y2":1002},{"x":815,"y":959,"y2":975},{"x":864,"y":984,"y2":992},{"x":794,"y":528,"y2":542},{"x":846,"y":540,"y2":563},{"x":743,"y":605,"y2":628},{"x":787,"y":609,"y2":624},{"x":800,"y":626,"y2":636},{"x":846,"y":605,"y2":620},{"x":894,"y":576,"y2":595},{"x":942,"y":592,"y2":620},{"x":741,"y":651,"y2":667},{"x":784,"y":680,"y2":694},{"x":802,"y":670,"y2":690},{"x":851,"y":651,"y2":674},{"x":884,"y":674,"y2":692},{"x":936,"y":676,"y2":684},{"x":943,"y":636,"y2":705},{"x":968,"y":720,"y2":805},{"x":753,"y":730,"y2":747},{"x":781,"y":751,"y2":767},{"x":829,"y":765,"y2":782},{"x":857,"y":759,"y2":786},{"x":903,"y":747,"y2":774},{"x":929,"y":786,"y2":801},{"x":877,"y":795,"y2":809},{"x":785,"y":820,"y2":836},{"x":831,"y":828,"y2":840},{"x":914,"y":811,"y2":822},{"x":808,"y":872,"y2":886},{"x":859,"y":872,"y2":894},{"x":907,"y":861,"y2":886},{"x":920,"y":870,"y2":878},{"x":761,"y":893,"y2":909},{"x":820,"y":892,"y2":903},{"x":872,"y":890,"y2":903},{"x":920,"y":897,"y2":909},{"x":948,"y":897,"y2":955},{"x":814,"y":919,"y2":940},{"x":863,"y":932,"y2":955},{"x":909,"y":926,"y2":955},{"x":915,"y":955,"y2":966},{"x":768,"y":966,"y2":994},{"x":816,"y":959,"y2":969},{"x":863,"y":982,"y2":994},{"x":912,"y":978,"y2":990},{"x":1038,"y":582,"y2":663},{"x":1036,"y":501,"y2":559},{"x":1054,"y":532,"y2":555},{"x":1056,"y":624,"y2":682},{"x":1059,"y":734,"y2":790},{"x":1043,"y":843,"y2":874},{"x":1059,"y":824,"y2":867},{"x":355,"y":640,"y2":700},{"x":350,"y":735,"y2":800}]},"mark":{"type":"rule","stroke":"#808080","strokeWidth":2,"opacity":0.85},"encoding":{"y2":{"field":"y2"}}},
{"data":{"values":[
{"k":"A","x":[362,392,450,560,620,740,800,860,902,945,992,1049],"y":[432,460,470,485,490,497,495,490,483,465,448,427]},
{"k":"B","x":[358,372,392,450,565,620,740,800,943,1038],"y":[482,499,518,540,561,567,572,573,563,530]},
{"k":"C","x":[358,372,390,450,565,620,740,860,943,1038],"y":[548,568,585,610,634,640,647,642,635,599]},
{"k":"D","x":[354,368,390,450,565,660,800,943,1038],"y":[615,635,655,680,705,716,715,706,667]},
{"k":"E","x":[354,364,390,450,565,730,850,943,970,1038],"y":[675,693,722,750,776,790,785,778,765,732]},
{"k":"F","x":[350,364,390,450,565,730,860,943,1038],"y":[745,768,790,815,847,860,855,843,793]},
{"k":"G","x":[347,390,450,565,640,760,860,943,1038],"y":[816,858,880,916,920,930,922,909,865]},
{"k":"R1","x":[397,399,440,458],"y":[335,356,371,368]},
{"k":"R2","x":[460,469,505,514],"y":[348,333,328,312]},
{"k":"R3","x":[575,582,627,684,702],"y":[312,305,303,297,305]},
{"k":"R4","x":[474,505],"y":[384,384]},
{"k":"R5","x":[607,636],"y":[399,399]}
]},"transform":[{"flatten":["x","y"]}],"mark":{"type":"line","stroke":"#404040","strokeWidth":2,"strokeDash":[5,7]},"encoding":{"detail":{"field":"k"}}},
{"data":{"values":[{"x":700,"y":57,"t":"Re = ca. 100,000"}]},"mark":{"type":"text","font":"Liberation Sans","fontWeight":"bold","fontSize":64,"align":"center","baseline":"middle","fill":"#000"},"encoding":{"text":{"field":"t"}}},
{"data":{"values":[{"x":1368,"y":62,"t":"distance 6D"},{"x":1368,"y":122,"t":"v, m/s"}]},"mark":{"type":"text","font":"Liberation Sans","fontWeight":"bold","fontSize":59,"align":"center","baseline":"middle","fill":"#000"},"encoding":{"text":{"field":"t"}}},
{"data":{"values":[{"x":57,"y":567,"t":"v, m/s"}]},"mark":{"type":"text","font":"Liberation Sans","fontWeight":"bold","fontSize":105,"align":"center","baseline":"middle","angle":91,"fill":"#000"},"encoding":{"text":{"field":"t"}}},
{"data":{"values":[{"x":124,"y":180,"t":"3.0"},{"x":128,"y":302,"t":"2.5"},{"x":135,"y":423,"t":"2.0"},{"x":143,"y":541,"t":"1.5"},{"x":150,"y":660,"t":"1.0"},{"x":157,"y":780,"t":"0.5"},{"x":160,"y":893,"t":"0.0"}]},"mark":{"type":"text","font":"Liberation Sans","fontWeight":"bold","fontSize":68,"align":"center","baseline":"middle","angle":350,"fill":"#000"},"encoding":{"text":{"field":"t"}}},
{"data":{"values":[{"x":735,"y":1092,"t":"0"},{"x":595,"y":1050,"t":"10"},{"x":473,"y":1005,"t":"20"},{"x":365,"y":965,"t":"30"},{"x":268,"y":920,"t":"40"}]},"mark":{"type":"text","font":"Liberation Sans","fontWeight":"bold","fontSize":56,"align":"center","baseline":"middle","angle":330,"fill":"#000"},"encoding":{"text":{"field":"t"}}},
{"data":{"values":[{"x":830,"y":1090,"t":"0"},{"x":950,"y":1045,"t":"10"},{"x":1040,"y":990,"t":"20"},{"x":1125,"y":945,"t":"30"},{"x":1205,"y":900,"t":"40"},{"x":1278,"y":858,"t":"50"}]},"mark":{"type":"text","font":"Liberation Sans","fontWeight":"bold","fontSize":56,"align":"center","baseline":"middle","angle":20,"fill":"#000"},"encoding":{"text":{"field":"t"}}},
{"data":{"values":[{"x":343,"y":1024,"t":"X"}]},"mark":{"type":"text","font":"Liberation Sans","fontWeight":"bold","fontSize":66,"align":"center","baseline":"middle","angle":335,"fill":"#000"},"encoding":{"text":{"field":"t"}}},
{"data":{"values":[{"x":1168,"y":994,"t":"Y"}]},"mark":{"type":"text","font":"Liberation Sans","fontWeight":"bold","fontSize":66,"align":"center","baseline":"middle","angle":20,"fill":"#000"},"encoding":{"text":{"field":"t"}}},
{"data":{"values":[{"x":570,"y":1190,"t":"v"}]},"mark":{"type":"text","font":"Liberation Serif","fontStyle":"italic","fontSize":108,"align":"center","baseline":"middle","fill":"#000"},"encoding":{"text":{"field":"t"}}},
{"data":{"values":[{"x":953,"y":1145,"t":"m"},{"x":953,"y":1238,"t":"s"}]},"mark":{"type":"text","font":"Liberation Serif","fontStyle":"italic","fontSize":96,"align":"center","baseline":"middle","fill":"#000"},"encoding":{"text":{"field":"t"}}},
{"data":{"values":[{"x":633,"y":1210,"t":"avg"}]},"mark":{"type":"text","font":"Liberation Serif","fontStyle":"italic","fontSize":58,"align":"center","baseline":"middle","fill":"#000"},"encoding":{"text":{"field":"t"}}},
{"data":{"values":[{"x":708,"y":1190,"t":"="},{"x":833,"y":1190,"t":"1.978"}]},"mark":{"type":"text","font":"Liberation Serif","fontSize":87,"align":"center","baseline":"middle","fill":"#000"},"encoding":{"text":{"field":"t"}}},
{"data":{"values":[{"x":922,"y":1190,"x2":982,"y2":1190}]},"mark":{"type":"rule","stroke":"#000","strokeWidth":4},"encoding":{"x2":{"field":"x2"},"y2":{"field":"y2"}}}
]},
{"encoding":{"y":{"field":"v","type":"quantitative","scale":{"domain":[-1.7176,3.4482],"nice":false,"zero":false},"axis":null}},"layer":[
{"data":{"values":[{"x":1307,"x2":1348,"v":[0,0.028,0.056,0.084,0.112,0.14,0.168,0.196,0.224,0.252,0.28,0.308,0.336,0.364,0.392,0.42,0.448,0.476,0.504,0.532,0.56,0.588,0.616,0.644,0.672,0.7,0.728,0.756,0.784,0.812,0.84,0.868,0.896,0.924,0.952,0.98,1.008,1.036,1.064,1.092,1.12,1.148,1.176,1.204,1.232,1.26,1.288,1.316,1.344,1.372,1.4,1.428,1.456,1.484,1.512,1.54,1.568,1.596,1.624,1.652,1.68,1.708,1.736,1.764,1.792,1.82,1.848,1.876,1.904,1.932,1.96,1.988,2.016,2.044,2.072,2.1,2.128,2.156,2.184,2.212,2.24,2.268,2.296,2.324,2.352,2.38,2.408,2.436,2.464,2.492,2.52,2.548,2.576,2.604,2.632,2.66,2.688,2.716,2.744,2.772],"v2":[0.028,0.056,0.084,0.112,0.14,0.168,0.196,0.224,0.252,0.28,0.308,0.336,0.364,0.392,0.42,0.448,0.476,0.504,0.532,0.56,0.588,0.616,0.644,0.672,0.7,0.728,0.756,0.784,0.812,0.84,0.868,0.896,0.924,0.952,0.98,1.008,1.036,1.064,1.092,1.12,1.148,1.176,1.204,1.232,1.26,1.288,1.316,1.344,1.372,1.4,1.428,1.456,1.484,1.512,1.54,1.568,1.596,1.624,1.652,1.68,1.708,1.736,1.764,1.792,1.82,1.848,1.876,1.904,1.932,1.96,1.988,2.016,2.044,2.072,2.1,2.128,2.156,2.184,2.212,2.24,2.268,2.296,2.324,2.352,2.38,2.408,2.436,2.464,2.492,2.52,2.548,2.576,2.604,2.632,2.66,2.688,2.716,2.744,2.772,2.8]}]},"transform":[{"flatten":["v","v2"]}],"mark":{"type":"rect"},"encoding":{"x2":{"field":"x2"},"y2":{"field":"v2"},"color":{"field":"v","type":"quantitative","legend":null}}},
{"data":{"values":[{"x":1307,"x2":1348,"v":0,"v2":2.8}]},"mark":{"type":"rect","fill":null,"stroke":"#111","strokeWidth":2.5},"encoding":{"x2":{"field":"x2"},"y2":{"field":"v2"}}},
{"data":{"values":[{"x":1348,"x2":1357,"v":[0.028,0.056,0.084,0.112,0.168,0.196,0.224,0.252,0.308,0.336,0.364,0.392,0.448,0.476,0.504,0.532,0.588,0.616,0.644,0.672,0.728,0.756,0.784,0.812,0.868,0.896,0.924,0.952,1.008,1.036,1.064,1.092,1.148,1.176,1.204,1.232,1.288,1.316,1.344,1.372,1.428,1.456,1.484,1.512,1.568,1.596,1.624,1.652,1.708,1.736,1.764,1.792,1.848,1.876,1.904,1.932,1.988,2.016,2.044,2.072,2.128,2.156,2.184,2.212,2.268,2.296,2.324,2.352,2.408,2.436,2.464,2.492,2.548,2.576,2.604,2.632,2.688,2.716,2.744,2.772]}]},"transform":[{"flatten":["v"]}],"mark":{"type":"rule","stroke":"#111","strokeWidth":2},"encoding":{"x2":{"field":"x2"}}},
{"data":{"values":[{"x":1348,"x2":1366,"v":[0,0.14,0.28,0.42,0.56,0.7,0.84,0.98,1.12,1.26,1.4,1.54,1.68,1.82,1.96,2.1,2.24,2.38,2.52,2.66,2.8]}]},"transform":[{"flatten":["v"]}],"mark":{"type":"rule","stroke":"#111","strokeWidth":2.5},"encoding":{"x2":{"field":"x2"}}},
{"data":{"values":[{"x":1371,"v":0,"t":"0.000"},{"x":1371,"v":0.14,"t":"0.1400"},{"x":1371,"v":0.28,"t":"0.2800"},{"x":1371,"v":0.42,"t":"0.4200"},{"x":1371,"v":0.56,"t":"0.5600"},{"x":1371,"v":0.7,"t":"0.7000"},{"x":1371,"v":0.84,"t":"0.8400"},{"x":1371,"v":0.98,"t":"0.9800"},{"x":1371,"v":1.12,"t":"1.120"},{"x":1371,"v":1.26,"t":"1.260"},{"x":1371,"v":1.4,"t":"1.400"},{"x":1371,"v":1.54,"t":"1.540"},{"x":1371,"v":1.68,"t":"1.680"},{"x":1371,"v":1.82,"t":"1.820"},{"x":1371,"v":1.96,"t":"1.960"},{"x":1371,"v":2.1,"t":"2.100"},{"x":1371,"v":2.24,"t":"2.240"},{"x":1371,"v":2.38,"t":"2.380"},{"x":1371,"v":2.52,"t":"2.520"},{"x":1371,"v":2.66,"t":"2.660"},{"x":1371,"v":2.8,"t":"2.800"}]},"mark":{"type":"text","font":"Liberation Sans","fontWeight":"bold","fontSize":43,"align":"left","baseline":"middle","fill":"#000"},"encoding":{"text":{"field":"t"}}}
]}
]}
